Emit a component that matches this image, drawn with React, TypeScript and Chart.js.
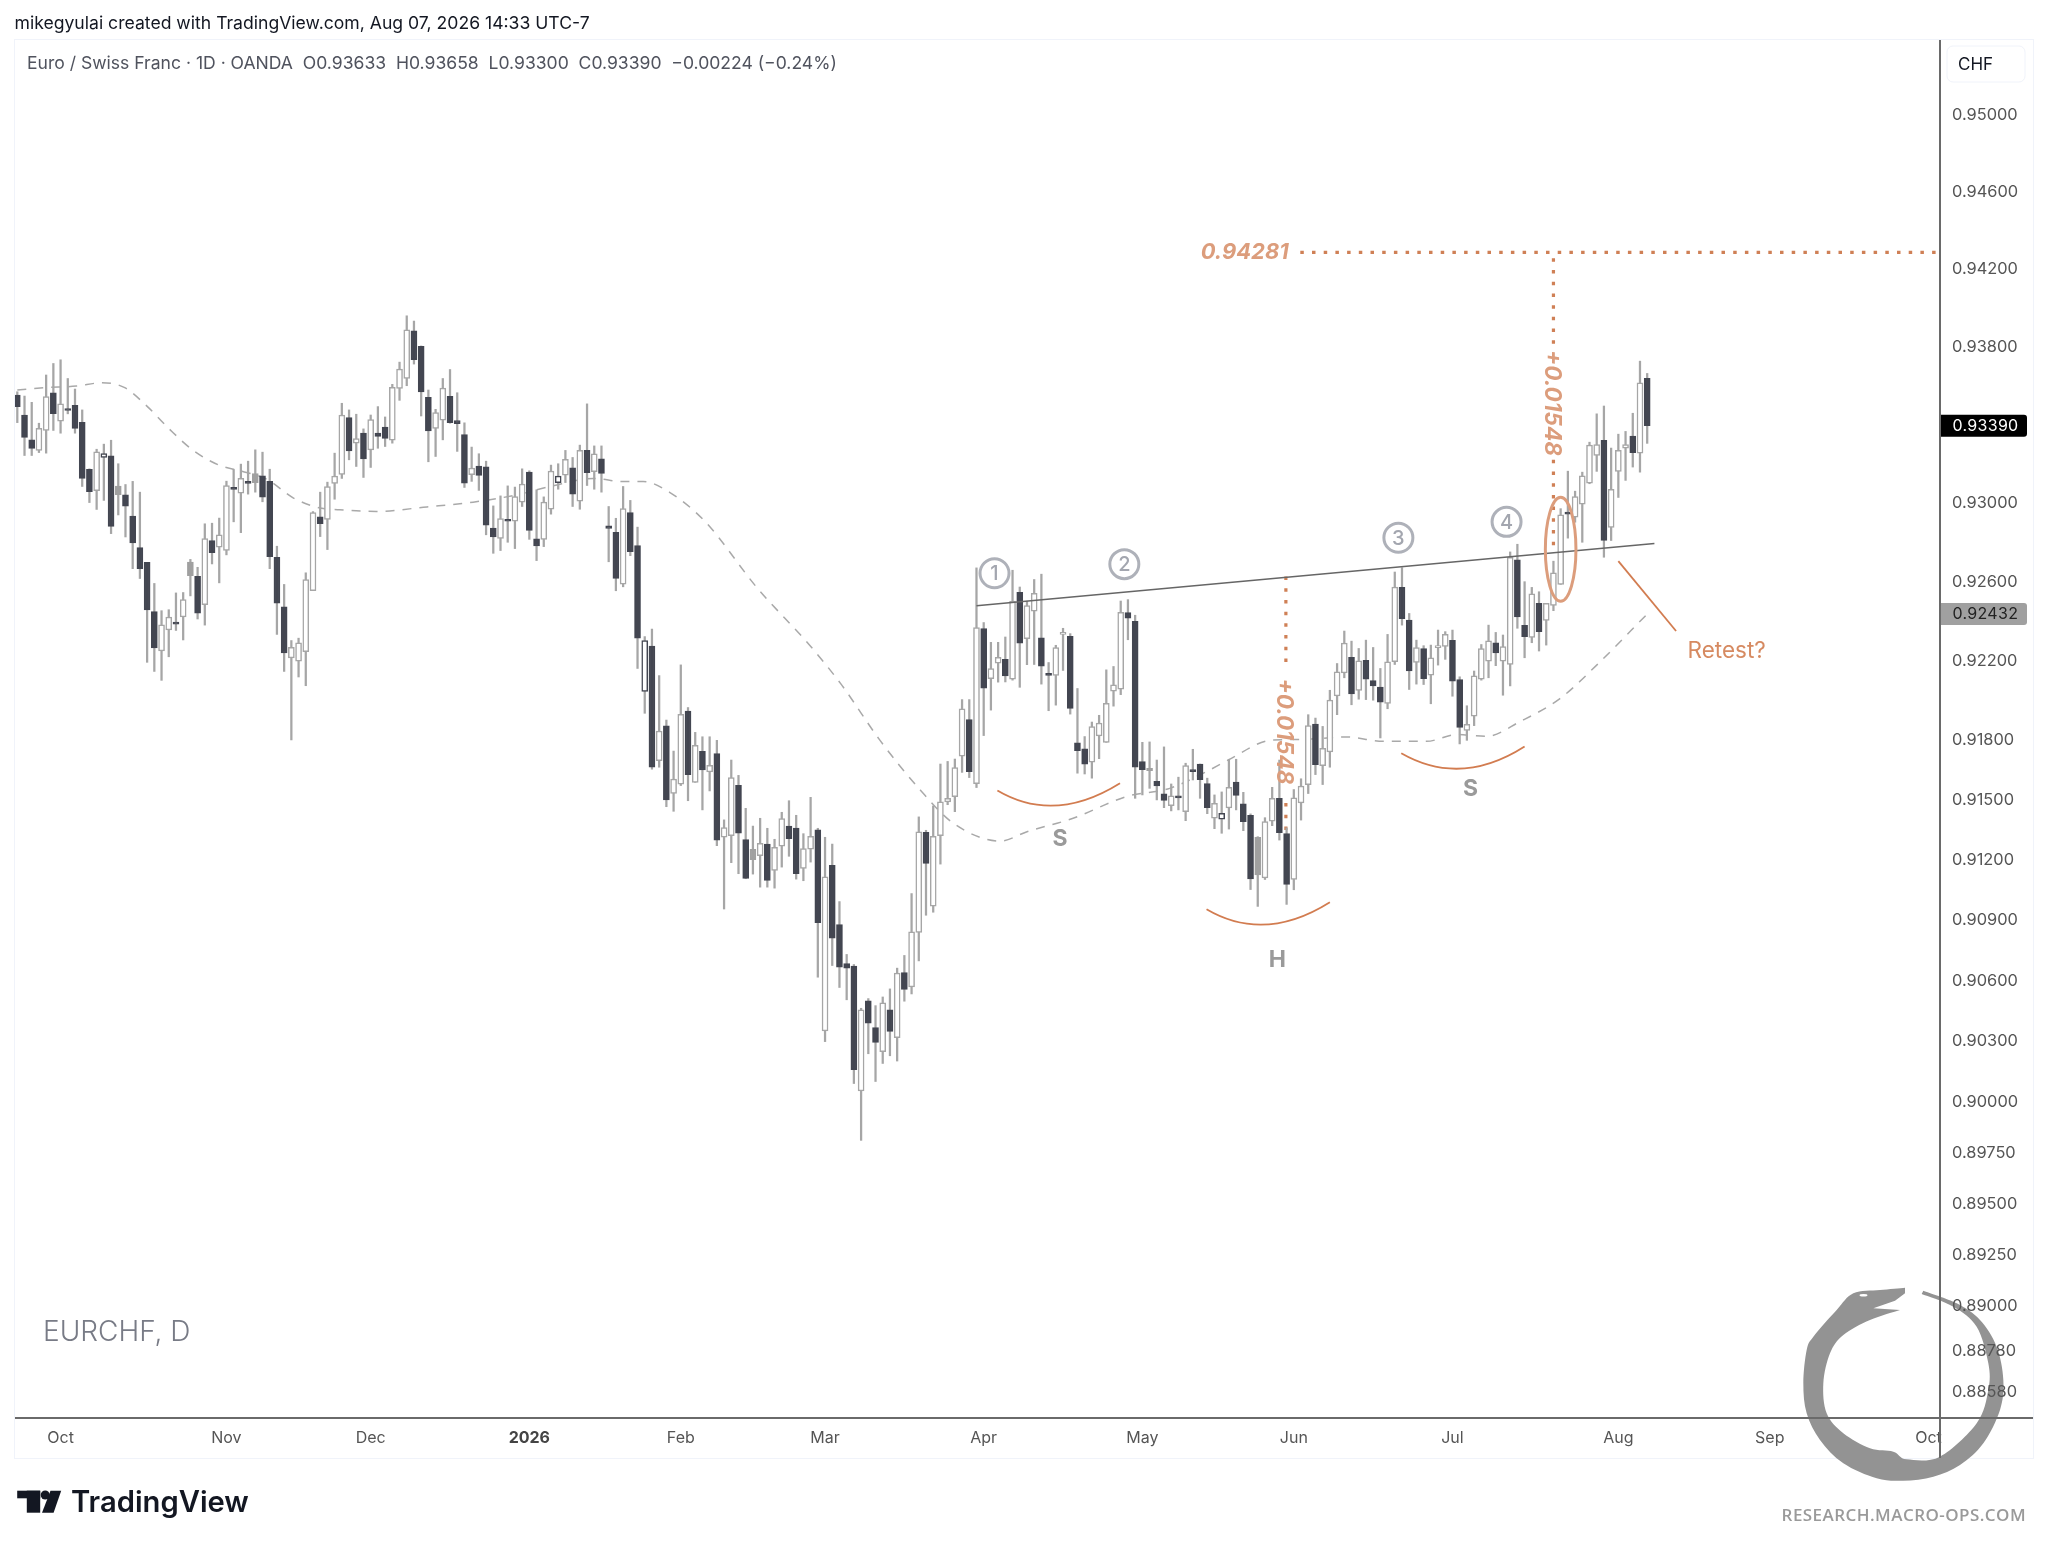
import React, { useEffect, useRef } from "react";
import { Chart, registerables } from "chart.js";

Chart.register(...registerables);

// Daily EUR/CHF candles, oldest first
const highs = [
.93564,.93542,.93510,.93403,.93650,.93709,.93728,.93632,.93578,.93471,
.93170,.93270,.93296,.93316,.93196,.93090,.93106,.93051,.92694,.92587,
.92449,.92454,.92539,.92541,.92709,.92669,.92890,.92893,.92919,.93107,
.93167,.93194,.93209,.93267,.93255,.93168,.92776,.92582,.92298,.92310,
.92641,.92952,.93051,.93102,.93250,.93505,.93471,.93449,.93374,.93445,
.93488,.93435,.93602,.93716,.93954,.93927,.93799,.93573,.93474,.93632,
.93678,.93559,.93405,.93281,.93247,.93209,.92981,.93032,.93083,.93077,
.93170,.93160,.93063,.93027,.93189,.93196,.93264,.93228,.93291,.93502,
.93287,.93287,.92978,.92918,.93080,.93009,.92873,.92318,.92356,.92121,
.91897,.91741,.92175,.91960,.91835,.91813,.91813,.91795,.91396,.91696,
.91619,.91454,.91365,.91404,.91354,.91299,.91434,.91492,.91419,.91327,
.91509,.91354,.91309,.91275,.90988,.90725,.90675,.90458,.90506,.90471,
.90514,.90554,.90657,.90720,.91028,.91411,.91344,.91466,.91676,.91689,
.91701,.92000,.92000,.92666,.92389,.92289,.92289,.92316,.92654,.92569,
.92497,.92607,.92634,.92187,.92274,.92360,.92333,.92056,.91814,.91887,
.91921,.92150,.92167,.92498,.92505,.92426,.91785,.91787,.91696,.91762,
.91576,.91610,.91680,.91750,.91676,.91605,.91521,.91536,.91696,.91700,
.91534,.91426,.91312,.91407,.91559,.91696,.91356,.91548,.91602,.91924,
.91907,.91865,.92047,.92182,.92346,.92295,.92258,.92300,.92263,.92157,
.92329,.92645,.92667,.92435,.92300,.92272,.92275,.92351,.92343,.92351,
.92115,.91969,.92144,.92278,.92376,.92339,.92326,.92747,.92786,.92596,
.92567,.92545,.92486,.92700,.92967,.93158,.93056,.93153,.93306,.93451,
.93491,.93276,.93347,.93361,.93454,.93721,.93658];

const lows = [
.93406,.93238,.93238,.93253,.93250,.93366,.93352,.93451,.93352,.93080,
.92998,.92963,.93009,.92840,.92935,.92823,.92662,.92612,.92188,.92142,
.92097,.92216,.92349,.92301,.92524,.92407,.92376,.92686,.92590,.92732,
.92900,.92845,.93041,.93051,.93002,.92662,.92329,.92142,.91797,.92114,
.92070,.92551,.92825,.92759,.93015,.93121,.93216,.93182,.93126,.93177,
.93275,.93284,.93301,.93520,.93595,.93706,.93440,.93206,.93233,.93318,
.93403,.93259,.93075,.93106,.93060,.92834,.92740,.92754,.92796,.92764,
.92978,.92811,.92703,.92774,.92939,.93066,.93100,.92978,.92964,.93085,
.93066,.93051,.92697,.92550,.92570,.92728,.92157,.91931,.91650,.91660,
.91462,.91439,.91568,.91492,.91584,.91446,.91541,.91267,.90951,.91182,
.91127,.91102,.91125,.91060,.91060,.91055,.91160,.91214,.91100,.91092,
.91185,.90612,.90293,.90670,.90561,.90500,.90086,.89806,.90233,.90096,
.90185,.90223,.90197,.90493,.90529,.90693,.90920,.90935,.91175,.91472,
.91437,.91634,.91608,.91558,.91819,.91947,.92088,.92089,.92098,.92062,
.92176,.92177,.92078,.91944,.91972,.92147,.91927,.91630,.91626,.91605,
.91703,.91785,.91967,.92025,.92302,.91504,.91521,.91554,.91496,.91457,
.91441,.91446,.91392,.91596,.91504,.91427,.91352,.91329,.91350,.91446,
.91342,.91048,.90964,.91098,.91367,.91295,.90974,.91047,.91395,.91528,
.91623,.91573,.91660,.91924,.92110,.91974,.92002,.92000,.91997,.91807,
.91954,.92177,.92376,.92051,.92078,.92076,.91979,.92174,.92203,.92017,
.91777,.91795,.91869,.92098,.92110,.92171,.92022,.92069,.92360,.92211,
.92287,.92245,.92275,.92449,.92582,.92817,.92898,.92796,.93094,.93157,
.92720,.92805,.93024,.93111,.93179,.93153,.93300];

const opens = [
.93547,.93445,.93318,.93264,.93366,.93559,.93413,.93476,.93495,.93408,
.93168,.93058,.93228,.93236,.93082,.93038,.92929,.92769,.92694,.92444,
.92245,.92352,.92386,.92417,.92696,.92623,.92480,.92805,.92771,.92755,
.93075,.93046,.93106,.93146,.93134,.93106,.92720,.92468,.92210,.92194,
.92242,.92551,.92925,.92912,.93095,.93141,.93432,.93301,.93352,.93267,
.93352,.93383,.93316,.93581,.93632,.93877,.93797,.93536,.93376,.93418,
.93541,.93417,.93345,.93140,.93184,.93180,.92868,.92815,.92907,.92903,
.93000,.93153,.92813,.92810,.92964,.93099,.93138,.93175,.93005,.93265,
.93156,.93221,.92879,.92847,.92584,.92947,.92779,.92041,.92270,.91693,
.91868,.91529,.91575,.91942,.91584,.91740,.91636,.91728,.91309,.91317,
.91569,.91297,.91249,.91217,.91275,.91143,.91264,.91365,.91355,.91153,
.91249,.91346,.90346,.91169,.90874,.90680,.90667,.90049,.90495,.90362,
.90243,.90450,.90312,.90635,.90564,.90835,.91334,.90965,.91317,.91486,
.91512,.91715,.91900,.91578,.92358,.92106,.92184,.92203,.92103,.92542,
.92307,.92446,.92312,.92127,.92122,.92329,.92319,.91782,.91752,.91685,
.91817,.91785,.92042,.92052,.92439,.92395,.91688,.91655,.91589,.91526,
.91467,.91511,.91437,.91645,.91676,.91578,.91404,.91399,.91456,.91586,
.91477,.91419,.91309,.91106,.91389,.91504,.91328,.91099,.91481,.91573,
.91877,.91668,.91737,.92019,.92135,.92213,.92046,.92198,.92096,.92063,
.91981,.92191,.92567,.92402,.92187,.92257,.92123,.92262,.92268,.92299,
.92101,.91845,.91916,.92103,.92194,.92287,.92194,.92177,.92707,.92375,
.92314,.92486,.92400,.92476,.92582,.92944,.92924,.92990,.93097,.93238,
.93316,.92871,.93157,.93276,.93337,.93250,.93633];

const closes = [
.93488,.93330,.93274,.93377,.93539,.93452,.93502,.93468,.93376,.93121,
.93053,.93257,.93248,.92876,.93038,.92980,.92793,.92662,.92453,.92261,
.92378,.92417,.92381,.92505,.92626,.92437,.92815,.92743,.92834,.93085,
.93065,.93122,.93095,.93100,.93026,.92723,.92487,.92235,.92264,.92286,
.92607,.92947,.92891,.93080,.93133,.93444,.93262,.93325,.93221,.93422,
.93335,.93325,.93587,.93680,.93882,.93728,.93563,.93364,.93457,.93583,
.93406,.93401,.93097,.93174,.93136,.92883,.92823,.92917,.92903,.93029,
.93092,.92856,.92777,.93000,.93158,.93133,.93219,.93041,.93264,.93150,
.93247,.93146,.92866,.92612,.92968,.92748,.92310,.92298,.91660,.91842,
.91496,.91601,.91926,.91623,.91770,.91646,.91670,.91295,.91357,.91608,
.91329,.91103,.91197,.91279,.91093,.91259,.91402,.91302,.91127,.91252,
.91314,.90883,.91112,.90806,.90662,.90657,.90154,.90450,.90384,.90289,
.90485,.90344,.90632,.90552,.90837,.91336,.91178,.91314,.91487,.91504,
.91658,.91953,.91638,.92363,.92057,.92157,.92213,.92120,.92498,.92285,
.92475,.92537,.92169,.92122,.92262,.92333,.91956,.91743,.91675,.91864,
.91882,.91981,.92074,.92441,.92411,.91660,.91648,.91643,.91566,.91494,
.91516,.91506,.91668,.91638,.91598,.91457,.91479,.91429,.91559,.91518,
.91387,.91101,.91121,.91387,.91504,.91332,.91074,.91506,.91565,.91869,
.91673,.91755,.91997,.92140,.92285,.92029,.92196,.92103,.92069,.91987,
.92191,.92569,.92408,.92145,.92263,.92106,.92211,.92267,.92329,.92093,
.91860,.91875,.92120,.92258,.92297,.92235,.92267,.92719,.92417,.92317,
.92535,.92343,.92486,.92641,.92936,.92939,.93029,.93134,.93291,.93294,
.92805,.93065,.93264,.93294,.93252,.93610,.93390];

// Candles that the reference paints differently
const grayCandles = [14, 24, 33, 102, 157, 172];
const darkOutlineCandles = [12, 75, 87, 167];

// Dashed moving average, read at these candle positions
const maIndex = [0,3.9,8.2,11.7,14.9,17.9,21.2,24.4,28.1,30.9,34.6,38.3,42,44.7,49.8,56.8,63.2,69.2,73.9,79.9,84,86.8,90.5,95.4,102.6,109.9,114.3,119.6,125.2,129.8,136.3,140,146.4,153.8,159.8,164.9,167.9,174.1,177.9,184.3,189.4,195.4,199.6,203.7,208.4,213.9,219,226];
const maValues = [.93573,.93585,.93593,.93610,.93585,.93493,.93369,.93264,.93187,.93160,.93117,.93021,.92970,.92961,.92953,.92976,.93000,.93037,.93080,.93121,.93105,.93105,.93049,.92900,.92564,.92273,.92074,.91796,.91546,.91379,.91290,.91337,.91404,.91513,.91554,.91638,.91696,.91797,.91799,.91812,.91790,.91790,.91824,.91815,.91890,.92005,.92174,.92432];

const monthIndex = [6, 29, 49, 71, 92, 112, 134, 156, 177, 199, 222, 243, 265];
const monthLabels = ["Oct", "Nov", "Dec", "2026", "Feb", "Mar", "Apr", "May", "Jun", "Jul", "Aug", "Sep", "Oct"];
const yTicks = [.95, .946, .942, .938, .93, .926, .922, .918, .915, .912, .909, .906, .903, .9, .8975, .895, .8925, .89, .8878, .8858];

const lastPrice = 0.9339;
const maLast = 0.92432;
const target = 0.94281;

// Drawn annotations, in candle position and price
const neckX = [133, 227];
const neckY = [.92474, .92790];
const retestX = [222, 230];
const retestY = [.92700, .92346];
const arcs = [
  [135.9, .91543, 144.1, .91468, 152.9, .91580],
  [164.9, .90950, 173.2, .90874, 182, .90985],
  [191.9, .91730, 200.3, .91653, 209, .91764],
];
const circled = [["1", 135.5, .92639], ["2", 153.5, .92685], ["3", 191.5, .92819], ["4", 206.5, .92900]];
const pattern = [["S", 144.6, .91301], ["S", 201.5, .91550], ["H", 174.7, .90695]];

const INK = "#434651";
const WICK = "#a6a6a6";
const ORANGE = "#d27c50";
const DOT = "#cf8056";
const SOFT = "#dc9d7c";
const F = "Inter, 'Noto Sans', sans-serif";

const ringOuter = [[1035,143],[960,150],[880,160],[830,210],[760,290],[740,330],[730,430],[740,520],[780,600],[850,670],[950,715],[1030,722],[1120,710],[1200,675],[1270,610],[1320,510],[1330,420],[1310,320],[1260,240],[1190,190],[1090,152]];
const ringInner = [[1085,162],[1180,200],[1250,260],[1285,370],[1285,450],[1250,550],[1140,650],[1040,658],[1000,635],[930,625],[850,580],[800,520],[790,430],[810,340],[850,285],[930,240],[1020,210]];
const ringMouth = [[940,205],[1005,182],[1035,160]];

const ringPt = ([X, Y]: number[]) => [1560 + X / 3, 1240 + Y / 3];

function spline(ctx: any, raw: number[][]) {
  const P = raw.map(ringPt);
  for (let i = 0; i < P.length - 1; i++) {
    const a = P[Math.max(i - 1, 0)], b = P[i], c = P[i + 1], d = P[Math.min(i + 2, P.length - 1)];
    ctx.bezierCurveTo(b[0] + (c[0] - a[0]) / 6, b[1] + (c[1] - a[1]) / 6, c[0] - (d[0] - b[0]) / 6, c[1] - (d[1] - b[1]) / 6, c[0], c[1]);
  }
}

function text(ctx: any, s: string, x: number, y: number, font: string, color: string, align: any = "left", spacing = "0px") {
  ctx.font = font;
  ctx.fillStyle = color;
  ctx.textAlign = align;
  ctx.textBaseline = "middle";
  ctx.letterSpacing = spacing;
  ctx.fillText(s, x, y);
  ctx.letterSpacing = "0px";
}

const decor = {
  id: "decor",
  beforeDraw(chart: any) {
    const { ctx } = chart;
    ctx.save();
    ctx.fillStyle = "#fff";
    ctx.fillRect(0, 0, 2048, 1547);
    ctx.strokeStyle = "#f0f3fa";
    ctx.lineWidth = 1;
    ctx.strokeRect(14.5, 39.5, 2019, 1419);
    // ouroboros watermark
    ctx.fillStyle = "#939393";
    ctx.beginPath();
    const start = ringPt(ringOuter[0]);
    ctx.moveTo(start[0], start[1]);
    spline(ctx, ringOuter);
    const joint = ringPt(ringInner[0]);
    ctx.lineTo(joint[0], joint[1]);
    spline(ctx, ringInner);
    ringMouth.map(ringPt).forEach((p) => ctx.lineTo(p[0], p[1]));
    ctx.closePath();
    ctx.fill();
    ctx.fillStyle = "#fff";
    ctx.beginPath();
    ctx.ellipse(1863.5, 1295.3, 4, 1.2, 0, 0, 7);
    ctx.fill();
    ctx.restore();
  },
  afterDatasetsDraw(chart: any) {
    const { ctx, scales } = chart;
    const X = (v: number) => scales.x.getPixelForValue(v);
    const Y = (v: number) => scales.y.getPixelForValue(v);
    ctx.save();
    // head and shoulder arcs
    ctx.strokeStyle = ORANGE;
    ctx.lineWidth = 1.8;
    arcs.forEach(([a, b, c, d, e, f]) => {
      const sx = X(a), sy = Y(b), mx = X(c), my = Y(d), ex = X(e), ey = Y(f);
      ctx.beginPath();
      ctx.moveTo(sx, sy);
      ctx.quadraticCurveTo(2 * mx - (sx + ex) / 2, 2 * my - (sy + ey) / 2, ex, ey);
      ctx.stroke();
    });
    // breakout ellipse
    ctx.strokeStyle = SOFT;
    ctx.lineWidth = 3;
    ctx.beginPath();
    ctx.ellipse(X(214), Y(.92760), 15.3, 52, 0, 0, 7);
    ctx.stroke();
    // numbered circles
    circled.forEach(([s, i, p]: any) => {
      ctx.strokeStyle = "#aeb1b9";
      ctx.lineWidth = 3;
      ctx.beginPath();
      ctx.arc(X(i), Y(p), 14.5, 0, 7);
      ctx.stroke();
      text(ctx, s, X(i), Y(p) + 1, `500 20px ${F}`, "#a3a6af", "center");
    });
    pattern.forEach(([s, i, p]: any) => text(ctx, s, X(i), Y(p), `700 23px ${F}`, "#9a9a9a", "center"));
    text(ctx, "Retest?", X(231.6), Y(.92242), `400 22.5px ${F}`, "#d68a61");
    text(ctx, target.toFixed(5), X(176.3), Y(target), `italic 700 22px ${F}`, SOFT, "right");
    [[213, .93507], [175.9, .91840]].forEach(([i, p]) => {
      ctx.save();
      ctx.translate(X(i), Y(p));
      ctx.rotate(Math.PI / 2);
      text(ctx, "+0.01548", 0, 2, `italic 700 22.6px ${F}`, SOFT, "center");
      ctx.restore();
    });
    text(ctx, "EURCHF, D", 43, 1333, `300 28px ${F}`, "#787b86");
    ctx.restore();
  },
  afterDraw(chart: any) {
    const { ctx, scales } = chart;
    const Y = (v: number) => scales.y.getPixelForValue(v);
    ctx.save();
    ctx.fillStyle = "#6a6a6a";
    ctx.fillRect(15, 1417, 2018, 2);
    ctx.fillRect(1939, 40, 2, 1418);
    // price tags
    const tag = (v: number, bg: string, fg: string) => {
      ctx.fillStyle = bg;
      ctx.beginPath();
      ctx.roundRect(1941, Y(v) - 11, 86, 22, [0, 3, 3, 0]);
      ctx.fill();
      text(ctx, v.toFixed(5), 1952.5, Y(v) + 0.5, `400 16px ${F}`, fg, "left", "0.3px");
    };
    tag(lastPrice, "#000000", "#ffffff");
    tag(maLast, "#a0a0a0", "#222222");
    // currency box
    ctx.fillStyle = "#fff";
    ctx.strokeStyle = "#f0f3fa";
    ctx.lineWidth = 1;
    ctx.beginPath();
    ctx.roundRect(1947, 46, 78, 36, 6);
    ctx.fill();
    ctx.stroke();
    text(ctx, "CHF", 1958, 65, `400 17px ${F}`, "#131722");
    // heading lines
    text(ctx, "mikegyulai created with TradingView.com, Aug 07, 2026 14:33 UTC-7", 14.5, 24, `400 17.6px ${F}`, "#131722");
    text(ctx, "Euro / Swiss Franc · 1D · OANDA  O0.93633  H0.93658  L0.93300  C0.93390  −0.00224 (−0.24%)", 27, 64, `400 17.56px ${F}`, "#50535e");
    // footer
    ctx.fillStyle = "#131722";
    ctx.fillRect(17.2, 1490.7, 23, 7.6);
    ctx.fillRect(26.8, 1490.7, 13.4, 22);
    ctx.beginPath();
    ctx.arc(45.2, 1495, 4.5, 0, 7);
    ctx.fill();
    ctx.beginPath();
    ctx.moveTo(50.5, 1490.7);
    ctx.lineTo(61.2, 1490.7);
    ctx.lineTo(53.6, 1512.7);
    ctx.lineTo(42, 1512.7);
    ctx.closePath();
    ctx.fill();
    text(ctx, "TradingView", 71, 1503, `600 29.2px ${F}`, "#131722");
    text(ctx, "RESEARCH.MACRO-OPS.COM", 2026, 1516.5, `600 17px 'Open Sans', sans-serif`, "#9a9a9a", "right", "0.45px");
    ctx.restore();
  },
};

export default function App() {
  const ref = useRef<HTMLCanvasElement | null>(null);
  useEffect(() => {
    if (!ref.current) return;
    const idx = highs.map((_, i) => i);
    const isDown = (i: number) => closes[i] < opens[i];
    const chart = new Chart(ref.current, {
      type: "bar",
      plugins: [decor],
      data: {
        datasets: [
          {
            type: "line",
            order: 6,
            data: [{ x: 177.9, y: target }, { x: 266.6, y: target }],
            borderColor: DOT,
            borderWidth: 3.2,
            borderDash: [3.5, 8.2],
            pointRadius: 0,
          },
          {
            type: "line",
            order: 6,
            data: [
              { x: 213, y: .94250 }, { x: 213, y: .93804 }, { x: 213, y: null },
              { x: 213, y: .93216 }, { x: 213, y: .92742 },
            ],
            borderColor: DOT,
            borderWidth: 3.2,
            borderDash: [3.5, 8.2],
            pointRadius: 0,
            spanGaps: false,
          },
          {
            type: "line",
            order: 6,
            data: [
              { x: 175.9, y: .92622 }, { x: 175.9, y: .92150 }, { x: 175.9, y: null },
              { x: 175.9, y: .91480 }, { x: 175.9, y: .91074 },
            ],
            borderColor: DOT,
            borderWidth: 3.2,
            borderDash: [3.5, 8.2],
            pointRadius: 0,
            spanGaps: false,
          },
          {
            type: "line",
            order: 5,
            data: maIndex.map((x, i) => ({ x, y: maValues[i] })),
            borderColor: "#a9a9a9",
            borderWidth: 1.5,
            borderDash: [9, 8],
            pointRadius: 0,
            cubicInterpolationMode: "monotone",
          },
          {
            order: 4,
            data: idx.map((x) => ({ x, y: [lows[x], highs[x]] })),
            backgroundColor: WICK,
            borderWidth: 0,
            barThickness: 1.6,
            grouped: false,
          },
          {
            order: 3,
            data: idx.map((x) => ({ x, y: [opens[x], closes[x]] })),
            backgroundColor: idx.map((i) => grayCandles.includes(i) ? "#a0a0a0" : isDown(i) ? INK : "#ffffff"),
            borderColor: idx.map((i) => grayCandles.includes(i) ? "#a0a0a0" : isDown(i) || darkOutlineCandles.includes(i) ? INK : WICK),
            borderWidth: 1.5,
            borderSkipped: false,
            barThickness: 6,
            minBarLength: 2,
            grouped: false,
          },
          {
            type: "line",
            order: 2,
            data: neckX.map((x, i) => ({ x, y: neckY[i] })),
            borderColor: "#666666",
            borderWidth: 1.6,
            pointRadius: 0,
          },
          {
            type: "line",
            order: 2,
            data: retestX.map((x, i) => ({ x, y: retestY[i] })),
            borderColor: ORANGE,
            borderWidth: 1.8,
            pointRadius: 0,
          },
        ],
      } as any,
      options: {
        animation: false,
        responsive: false,
        devicePixelRatio: 1,
        layout: { padding: { left: 15, right: 15, top: 39, bottom: 89 } },
        plugins: { legend: { display: false }, tooltip: { enabled: false } },
        scales: {
          x: {
            type: "linear",
            offset: false,
            min: -0.319,
            max: 266.6,
            grid: { display: false, drawTicks: false },
            border: { display: false },
            afterBuildTicks: (s: any) => { s.ticks = monthIndex.map((value) => ({ value })); },
            afterFit: (s: any) => { s.height = 40; },
            ticks: {
              autoSkip: false,
              maxRotation: 0,
              padding: 11,
              color: (c: any) => (c.tick?.value === 71 ? "#444" : "#555"),
              font: (c: any) => ({ family: F, size: 16, weight: c.tick?.value === 71 ? "bold" : "normal" }),
              callback: (v: any) => monthLabels[monthIndex.indexOf(v)],
            },
          },
          y: {
            type: "logarithmic",
            position: "right",
            min: .88451,
            max: .95389,
            grid: { display: false, drawTicks: false },
            border: { display: false },
            afterBuildTicks: (s: any) => { s.ticks = yTicks.map((value) => ({ value })); },
            afterFit: (s: any) => { s.width = 93; },
            ticks: {
              autoSkip: false,
              padding: 12,
              labelOffset: 1,
              color: "#555",
              font: { family: F, size: 16.4 },
              callback: (v: any) => Number(v).toFixed(5),
            },
          },
        },
      } as any,
    });
    return () => chart.destroy();
  }, []);
  return (
    <canvas
      ref={ref}
      width={2048}
      height={1547}
      style={{ position: "absolute", left: 0, top: 0, width: 2048, height: 1547, display: "block" }}
    />
  );
}
